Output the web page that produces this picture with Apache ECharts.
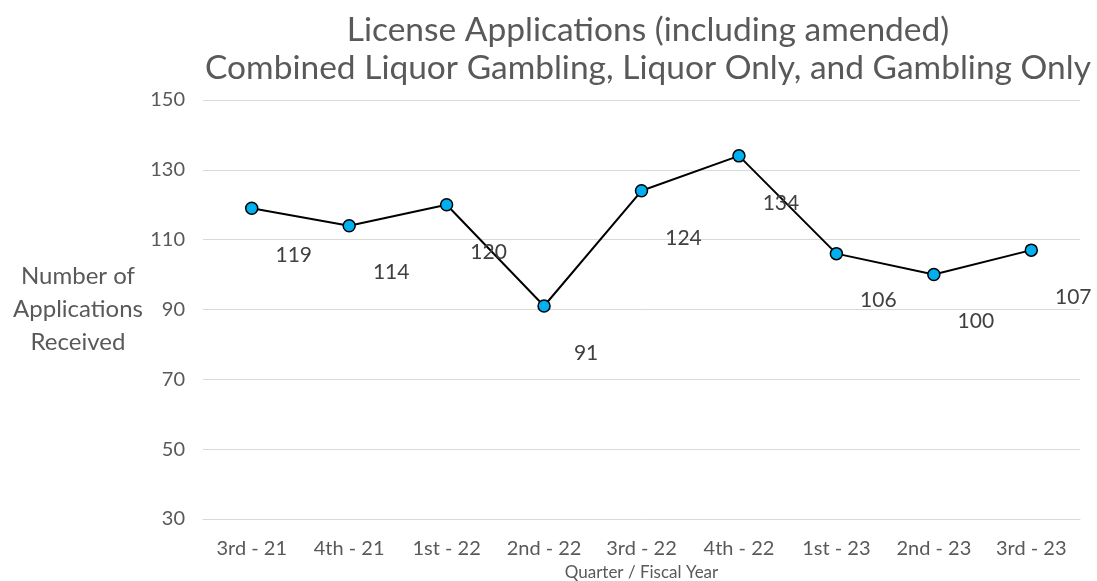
<!DOCTYPE html>
<html>
<head>
<meta charset="utf-8">
<script src="https://cdn.jsdelivr.net/npm/echarts@6/dist/echarts.min.js"></script>
<style>
  html, body { margin: 0; padding: 0; background: #fff; }
  #chart { width: 1097px; height: 581px; }
</style>
</head>
<body>
<div id="chart"></div>
<script>
// quarters / fiscal year
const quarters = ['3rd - 21', '4th - 21', '1st - 22', '2nd - 22', '3rd - 22', '4th - 22', '1st - 23', '2nd - 23', '3rd - 23'];
// applications received
const applications = [119, 114, 120, 91, 124, 134, 106, 100, 107];

const FONT = 'Lato, "Noto Sans", sans-serif';
const GREY = '#595959';

let myChart = echarts.init(document.getElementById('chart'));
let option = {
  animation: false,
  textStyle: { fontFamily: FONT },
  title: {
    text: 'License Applications (including amended)\nCombined Liquor Gambling, Liquor Only, and Gambling Only',
    left: 643,
    top: 6,
    textAlign: 'center',
    textStyle: { fontFamily: FONT, fontSize: 33.5, fontWeight: 'normal', color: GREY, lineHeight: 38 }
  },
  grid: { left: 203, right: 17, top: 100, bottom: 62, outerBoundsMode: 'none' },
  xAxis: {
    type: 'category',
    data: quarters,
    name: 'Quarter / Fiscal Year',
    nameLocation: 'middle',
    nameGap: 40,
    nameTextStyle: { fontFamily: FONT, fontSize: 17, color: GREY },
    axisLine: { lineStyle: { color: '#d9d9d9' } },
    axisTick: { show: false },
    axisLabel: { fontFamily: FONT, fontSize: 20, color: GREY, margin: 20 }
  },
  yAxis: {
    type: 'value',
    min: 30,
    max: 150,
    interval: 20,
    name: 'Number of\nApplications\nReceived',
    nameLocation: 'middle',
    nameRotate: 0,
    nameGap: 125,
    nameTextStyle: { fontFamily: FONT, fontSize: 24, color: GREY, lineHeight: 33, align: 'center' },
    axisLine: { show: false },
    axisTick: { show: false },
    axisLabel: { fontFamily: FONT, fontSize: 20, color: GREY, margin: 18 },
    splitLine: { lineStyle: { color: '#d9d9d9', width: 1 } }
  },
  series: [
    {
      name: 'Applications',
      type: 'line',
      data: applications,
      symbol: 'circle',
      symbolSize: 12,
      lineStyle: { color: '#000', width: 2 },
      itemStyle: { color: '#00B0F0', borderColor: '#000', borderWidth: 1.5 },
      label: {
        show: true,
        position: 'inside',
        offset: [42, 47],
        fontFamily: FONT,
        fontSize: 21,
        color: '#404040'
      }
    }
  ]
};
myChart.setOption(option);
</script>
</body>
</html>
